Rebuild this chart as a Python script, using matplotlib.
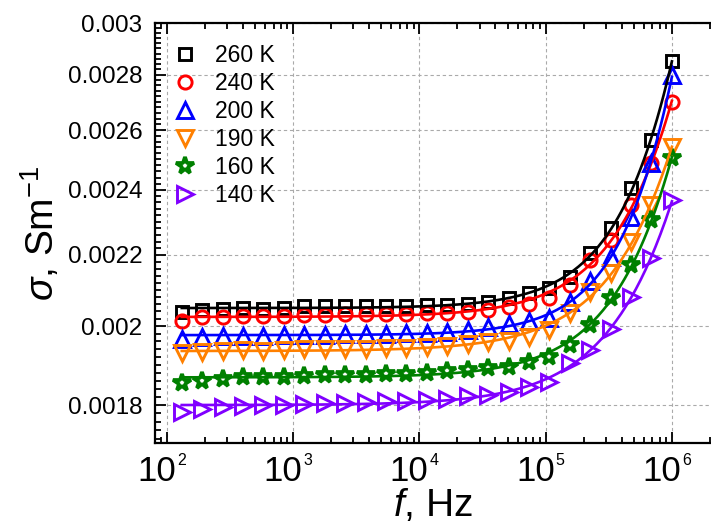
import numpy as np
import matplotlib
matplotlib.use("Agg")
import matplotlib.pyplot as plt
from matplotlib.ticker import FixedLocator, NullFormatter, LogLocator

plt.rcParams['font.family'] = ['Liberation Sans', 'DejaVu Sans']
plt.rcParams['mathtext.fontset'] = 'custom'
plt.rcParams['mathtext.rm'] = 'Liberation Sans'
plt.rcParams['mathtext.it'] = 'Liberation Sans:italic'

# ---- data ----
freq = [131, 190, 276, 400, 581, 843, 1224, 1778, 2579, 3743, 5433, 7889,
        11450, 16600, 24100, 35000, 50800, 73800, 107000, 155000, 225000,
        327000, 475000, 689000, 1000000]

s260 = [0.002039, 0.002044, 0.002047, 0.002050, 0.002048, 0.002050, 0.002054,
        0.002054, 0.002054, 0.002056, 0.002056, 0.002056, 0.002058, 0.002058,
        0.002060, 0.002066, 0.002076, 0.002090, 0.002104, 0.002137, 0.002207,
        0.002280, 0.002405, 0.002564, 0.002852]
s240 = [0.002013, 0.002024, 0.002026, 0.002028, 0.002027, 0.002028, 0.002030,
        0.002030, 0.002032, 0.002032, 0.002034, 0.002034, 0.002036, 0.002036,
        0.002039, 0.002043, 0.002053, 0.002060, 0.002078, 0.002113, 0.002185,
        0.002246, 0.002352, 0.002487, 0.002700]
s200 = [0.001966, 0.001972, 0.001974, 0.001975, 0.001975, 0.001976, 0.001978,
        0.001978, 0.001979, 0.001980, 0.001980, 0.001981, 0.001982, 0.001985,
        0.001990, 0.001997, 0.002005, 0.002014, 0.002022, 0.002067, 0.002125,
        0.002195, 0.002316, 0.002487, 0.002798]
s190 = [0.001929, 0.001933, 0.001935, 0.001937, 0.001936, 0.001937, 0.001939,
        0.001940, 0.001940, 0.001941, 0.001942, 0.001943, 0.001945, 0.001949,
        0.001953, 0.001958, 0.001962, 0.001972, 0.001991, 0.002035, 0.002095,
        0.002148, 0.002239, 0.002352, 0.002543]
s160 = [0.001853, 0.001859, 0.001864, 0.001868, 0.001868, 0.001870, 0.001872,
        0.001873, 0.001874, 0.001875, 0.001876, 0.001877, 0.001880, 0.001883,
        0.001887, 0.001891, 0.001895, 0.001907, 0.001920, 0.001951, 0.002004,
        0.002078, 0.002171, 0.002306, 0.002504]
s140 = [0.001784, 0.001791, 0.001795, 0.001798, 0.001800, 0.001801, 0.001803,
        0.001805, 0.001806, 0.001808, 0.001810, 0.001811, 0.001813, 0.001815,
        0.001822, 0.001825, 0.001832, 0.001845, 0.001857, 0.001903, 0.001937,
        0.001994, 0.002080, 0.002190, 0.002367]

labels = ['260 K', '240 K', '200 K', '190 K', '160 K', '140 K']
series = [s260, s240, s200, s190, s160, s140]
colors = ['#000000', '#FF0000', '#0000FF', '#FF8000', '#008000', '#8000FF']
markers = ['s', 'o', '^', 'v', '*', '>']
msizes = [9, 9.5, 11, 11, 13, 11]
mews = [2.1, 2.1, 2.1, 2.1, 2.7, 2.1]

ytick_vals = [0.0018, 0.002, 0.0022, 0.0024, 0.0026, 0.0028, 0.003]
ytick_labels = ['0.0018', '0.002', '0.0022', '0.0024', '0.0026', '0.0028', '0.003']
xtick_vals = [1e2, 1e3, 1e4, 1e5, 1e6]
xtick_exps = ['2', '3', '4', '5', '6']


def jonscher_fit(f, y):
    f = np.asarray(f, float)
    y = np.asarray(y, float)
    best = None
    for n in np.linspace(0.3, 2.5, 441):
        M = np.column_stack([np.ones_like(f), f ** n])
        coef, *_ = np.linalg.lstsq(M, y, rcond=None)
        r = np.sum(((M @ coef) - y) ** 2)
        if best is None or r < best[0]:
            best = (r, n, coef)
    _, n, coef = best
    ff = np.logspace(np.log10(f[0]), np.log10(f[-1]), 300)
    return ff, coef[0] + coef[1] * ff ** n


fig = plt.figure(figsize=(7.11, 5.31), dpi=100)
ax = fig.add_axes([155 / 711, 88 / 531, 556 / 711, 420 / 531])

for y, c, m, ms, mw, lab in zip(series, colors, markers, msizes, mews, labels):
    ax.plot(freq, y, linestyle='none', marker=m, markersize=ms,
            markerfacecolor='none', markeredgecolor=c, markeredgewidth=mw,
            label=lab, zorder=3)
for y, c in zip(series, colors):
    ff, yy = jonscher_fit(freq, y)
    ax.plot(ff, yy, color=c, lw=1.9, zorder=4)

ax.set_xscale('log')
ax.set_yscale('log')
ax.set_xlim(80.4, 2.04e6)
ax.set_ylim(0.001711, 0.003)

ax.yaxis.set_major_locator(FixedLocator(ytick_vals))
ax.set_yticklabels(ytick_labels)
minor_y = [v for v in np.arange(0.00172, 0.003001, 0.00002)
           if min(abs(v - t) for t in ytick_vals) > 1e-7]
ax.yaxis.set_minor_locator(FixedLocator(minor_y))
ax.yaxis.set_minor_formatter(NullFormatter())

ax.xaxis.set_major_locator(FixedLocator(xtick_vals))
ax.xaxis.set_minor_locator(LogLocator(base=10, subs=np.arange(2, 10)))
ax.xaxis.set_minor_formatter(NullFormatter())
ax.set_xticklabels([''] * len(xtick_vals))

for t, e in zip(xtick_vals, xtick_exps):
    ax.annotate('10', xy=(t, 0), xycoords=('data', 'axes fraction'),
                xytext=(9, -12), textcoords='offset pixels',
                ha='right', va='top', fontsize=25)
    ax.annotate(e, xy=(t, 0), xycoords=('data', 'axes fraction'),
                xytext=(10, -10), textcoords='offset pixels',
                ha='left', va='top', fontsize=11.5)

ax.tick_params(axis='both', which='both', direction='in', top=True,
               right=False, width=1.3)
ax.tick_params(axis='both', which='major', length=8)
ax.tick_params(axis='both', which='minor', length=4.5)
ax.tick_params(axis='y', labelsize=17.5, pad=9)
ax.spines['right'].set_visible(False)
for s in ['left', 'top', 'bottom']:
    ax.spines[s].set_linewidth(1.6)

ax.grid(True, which='major', linestyle=(0, (3, 2.5)), color='#aaaaaa', lw=0.8)
ax.set_axisbelow(True)

ax.set_xlabel(r'$\mathit{f}$, Hz', fontsize=28)
ax.xaxis.set_label_coords(0.5, -0.105)
ax.set_ylabel(r'$\sigma$, Sm$^{\mathregular{-1}}$', fontsize=28)
ax.yaxis.set_label_coords(-0.168, 0.5)

leg = ax.legend(loc='upper left', bbox_to_anchor=(0.0, 1.0), frameon=False,
                fontsize=16.5, handlelength=0.8, handletextpad=0.9,
                labelspacing=0.22, borderaxespad=0.55, borderpad=0.35)

fig.savefig('out.png', dpi=100)
